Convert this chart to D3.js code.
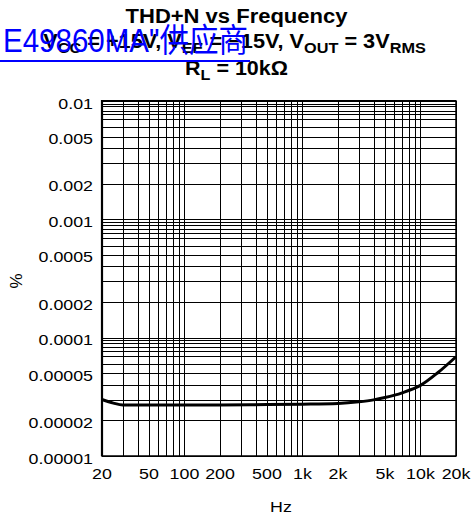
<!DOCTYPE html>
<html>
<head>
<meta charset="utf-8">
<title>THD+N vs Frequency</title>
<script src="https://cdn.jsdelivr.net/npm/d3@7"></script>
<style>
body { margin: 0; background: #fff; }
svg { display: block; font-family: "Liberation Sans", Arial, Helvetica, sans-serif; }
.grid line { stroke: #000; stroke-width: 1; shape-rendering: crispEdges; }
.grid path { display: none; }
.lbl { font-size: 15.5px; fill: #000; }
.ttl { font-weight: bold; fill: #000; }
</style>
</head>
<body>
<script>
// curve (Hz, %)
var freq = [20, 25, 30, 40, 50, 100, 200, 500, 1000, 2000, 3000, 4000, 5000, 7000, 10000, 14000, 20000];
var thdn = [3.0e-5, 2.8e-5, 2.7e-5, 2.7e-5, 2.7e-5, 2.7e-5, 2.7e-5, 2.72e-5, 2.74e-5, 2.78e-5, 2.87e-5, 2.98e-5, 3.12e-5, 3.42e-5, 3.95e-5, 5.05e-5, 6.9e-5];

var xTicks = [20, 50, 100, 200, 500, 1000, 2000, 5000, 10000, 20000];
var xTickLabels = ["20", "50", "100", "200", "500", "1k", "2k", "5k", "10k", "20k"];
var yTicks = [0.01, 0.005, 0.002, 0.001, 0.0005, 0.0002, 0.0001, 0.00005, 0.00002, 0.00001];
var yTickLabels = ["0.01", "0.005", "0.002", "0.001", "0.0005", "0.0002", "0.0001", "0.00005", "0.00002", "0.00001"];

var xGrid = [20, 30, 40, 50, 60, 70, 80, 90,
             100, 200, 300, 400, 500, 600, 700, 800, 900,
             1000, 2000, 3000, 4000, 5000, 6000, 7000, 8000, 9000,
             10000, 20000];
// the printed grid has a few odd lines near the top of each decade
var yGridSteps = [10, 9.5, 9, 8.3, 7.7, 7, 6, 5, 4, 3, 2];
var yDecades = [0.00001, 0.0001, 0.001];

var pLeft = 102, pRight = 456, pTop = 101, pBottom = 456;

var svg = d3.select("body").append("svg")
    .attr("width", 472)
    .attr("height", 520);

var x = d3.scaleLog().domain([20, 20000]).range([pLeft, pRight]);
var y = d3.scaleLog().domain([0.00001, 0.01]).range([pBottom, pTop]);

var yGrid = [0.00001];
yDecades.forEach(function(d) {
  yGridSteps.forEach(function(s) { yGrid.push(d * s); });
});

// grid
svg.append("g")
    .attr("class", "grid")
    .attr("transform", "translate(0," + pBottom + ")")
    .call(d3.axisBottom(x).tickValues(xGrid).tickSize(-(pBottom - pTop)).tickFormat(""));

svg.append("g")
    .attr("class", "grid")
    .attr("transform", "translate(" + pLeft + ",0)")
    .call(d3.axisLeft(y).tickValues(yGrid).tickSize(-(pRight - pLeft)).tickFormat(""));

// frame
svg.append("rect")
    .attr("x", pLeft).attr("y", pTop)
    .attr("width", pRight - pLeft).attr("height", pBottom - pTop)
    .attr("fill", "none").attr("stroke", "#000").attr("stroke-width", 1.5);
svg.append("path")
    .attr("d", "M" + pLeft + "," + pBottom + "V" + pTop + "H" + pRight)
    .attr("fill", "none").attr("stroke", "#000").attr("stroke-width", 2.2);

// curve
var line = d3.line()
    .x(function(d, i) { return x(freq[i]); })
    .y(function(d) { return y(d); })
    .curve(d3.curveMonotoneX);

svg.append("path")
    .datum(thdn)
    .attr("d", line)
    .attr("fill", "none")
    .attr("stroke", "#000")
    .attr("stroke-width", 3)
    .attr("stroke-linejoin", "round");

// tick labels (the print is a little wide, hence the scale)
var stretch = 1.15;
svg.selectAll(".ylbl")
    .data(yTicks)
  .enter().append("text")
    .attr("class", "lbl")
    .attr("transform", function(d) { return "translate(93," + (y(d) + 7.5) + ") scale(" + stretch + ",1)"; })
    .style("text-anchor", "end")
    .text(function(d, i) { return yTickLabels[i]; });

svg.selectAll(".xlbl")
    .data(xTicks)
  .enter().append("text")
    .attr("class", "lbl")
    .attr("transform", function(d) { return "translate(" + x(d) + ",479) scale(" + stretch + ",1)"; })
    .style("text-anchor", "middle")
    .text(function(d, i) { return xTickLabels[i]; });

svg.append("text")
    .attr("class", "lbl")
    .attr("transform", "translate(281,512) scale(" + stretch + ",1)")
    .style("text-anchor", "middle")
    .text("Hz");

svg.append("text")
    .attr("class", "lbl")
    .attr("transform", "translate(22,281) rotate(-90)")
    .style("text-anchor", "middle")
    .style("font-size", "17px")
    .text("%");

// titles
function fit(t, cx, cy, w) {
  var bw = t.node().getBBox().width;
  t.attr("transform", "translate(" + cx + "," + cy + ") scale(" + (w / bw) + ",1)");
}

var t1 = svg.append("text").attr("class", "ttl")
    .style("font-size", "20px").style("text-anchor", "middle")
    .text("THD+N vs Frequency");
fit(t1, 236.5, 23, 223);

var t2 = svg.append("text").attr("class", "ttl")
    .style("font-size", "20px").style("text-anchor", "middle");
[["V", 0], ["CC", 1], [" = +15V, V", 0], ["EE", 1], [" = \u221215V, V", 0],
 ["OUT", 1], [" = 3V", 0], ["RMS", 1]].forEach(function(p) {
  var s = t2.append("tspan").text(p[0]);
  if (p[1]) s.style("font-size", "15px").attr("dy", 4.5);
  else s.attr("dy", -4.5);
});
t2.select("tspan").attr("dy", 0);
fit(t2, 234.5, 48, 383);

var t3 = svg.append("text").attr("class", "ttl")
    .style("font-size", "20px").style("text-anchor", "middle");
t3.append("tspan").text("R");
t3.append("tspan").text("L").style("font-size", "15px").attr("dy", 4.5);
t3.append("tspan").text(" = 10k\u03a9").attr("dy", -4.5);
fit(t3, 236.5, 75, 103);

// blue watermark on top
svg.append("text")
    .attr("x", 3).attr("y", 52)
    .attr("textLength", 245)
    .attr("lengthAdjust", "spacingAndGlyphs")
    .style("font-family", "\"Liberation Sans\", \"Noto Sans CJK SC\", sans-serif")
    .style("font-size", "33px")
    .style("fill", "#0000ff")
    .text("E49860MA\"\u4f9b\u5e94\u5546");
svg.append("line")
    .attr("x1", 0).attr("x2", 250)
    .attr("y1", 61).attr("y2", 61)
    .attr("stroke", "#0000ff").attr("stroke-width", 2);
</script>
</body>
</html>
